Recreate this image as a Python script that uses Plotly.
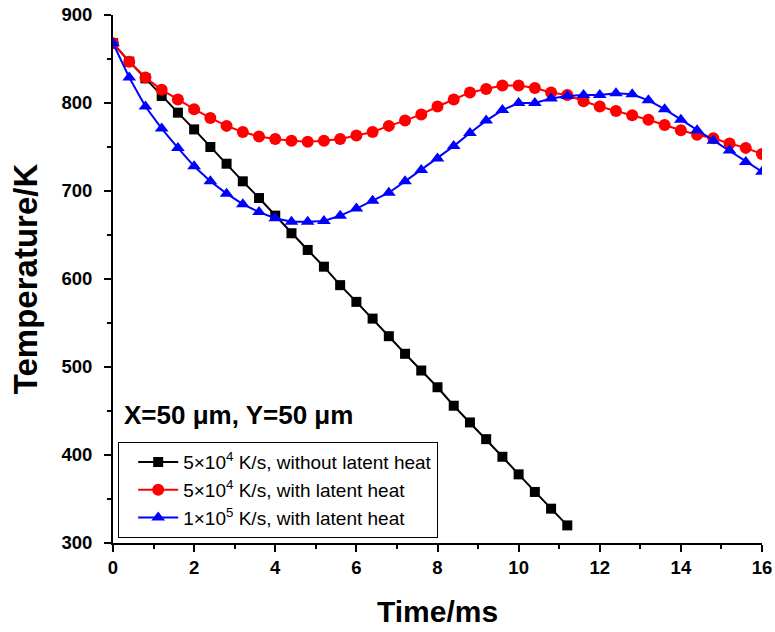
import plotly.graph_objects as go

# Time axis (ms), sampled every 0.4 ms
time_full = [round(0.4 * i, 1) for i in range(41)]
time_no_latent = time_full[:29]

# 5x10^4 K/s cooling, latent heat ignored
temp_no_latent = [868, 847, 828, 808, 789, 770, 750, 731, 711, 692, 672, 652, 633, 614,
                  593, 574, 555, 535, 515, 496, 477, 456, 437, 418, 398, 378, 358, 339, 320]

# 5x10^4 K/s cooling, latent heat included
temp_5e4_latent = [868, 847, 829, 815, 804, 793, 783, 774, 767, 762, 759, 757, 756, 757,
                   759, 763, 767, 774, 780, 787, 796, 804, 812, 816, 820, 820, 817, 812,
                   809, 802, 796, 791, 786, 781, 775, 769, 764, 760, 754, 749, 742]

# 1x10^5 K/s cooling, latent heat included
temp_1e5_latent = [868, 829, 796, 771, 749, 728, 711, 697, 685, 676, 669, 665, 665, 666,
                   672, 680, 689, 698, 711, 724, 737, 751, 766, 780, 792, 800, 800, 805,
                   808, 809, 809, 811, 810, 803, 793, 781, 769, 757, 746, 733, 722]

legend_names = [
    "5×10<sup>4</sup> K/s, without latent heat",
    "5×10<sup>4</sup> K/s, with latent heat",
    "1×10<sup>5</sup> K/s, with latent heat",
]

FONT = "Arial, Liberation Sans, sans-serif"

fig = go.Figure()
fig.add_trace(go.Scatter(
    x=time_no_latent, y=temp_no_latent, name=legend_names[0], mode="lines+markers",
    line=dict(color="black", width=2),
    marker=dict(symbol="square", size=10, color="black"),
))
fig.add_trace(go.Scatter(
    x=time_full, y=temp_5e4_latent, name=legend_names[1], mode="lines+markers",
    line=dict(color="#ff0000", width=2),
    marker=dict(symbol="circle", size=12, color="#ff0000"),
))
fig.add_trace(go.Scatter(
    x=time_full, y=temp_1e5_latent, name=legend_names[2], mode="lines+markers",
    line=dict(color="#0000ff", width=2),
    marker=dict(symbol="triangle-up", size=12, color="#0000ff"),
))

fig.update_layout(
    width=775, height=632,
    margin=dict(l=113, r=13, t=15, b=89),
    paper_bgcolor="white", plot_bgcolor="white",
    font=dict(family=FONT, color="black"),
    showlegend=True,
    legend=dict(
        x=0.008, y=0.191, xanchor="left", yanchor="top",
        bgcolor="white", bordercolor="black", borderwidth=1,
        font=dict(size=19, family=FONT), tracegroupgap=0,
        itemwidth=40, indentation=14,
    ),
    annotations=[dict(
        x=0.014, y=0.243, xref="paper", yref="paper", xanchor="left", yanchor="middle",
        text="<b>X=50 μm, Y=50 μm</b>", showarrow=False,
        font=dict(size=26, family=FONT, color="black"),
    )],
)

fig.update_xaxes(
    range=[0, 16], tickmode="linear", tick0=0, dtick=2, automargin=False,
    showline=True, linecolor="black", linewidth=2, mirror=False,
    ticks="outside", ticklen=7, tickwidth=2, tickcolor="black",
    minor=dict(ticks="outside", ticklen=4, tickwidth=1.5, tickcolor="black", dtick=1),
    showgrid=False, zeroline=False,
    tickfont=dict(size=18.5, family=FONT, weight="bold"),
    title=dict(text="<b>Time/ms</b>", font=dict(size=30, family=FONT), standoff=24),
)
fig.update_yaxes(
    range=[300, 900], tickmode="linear", tick0=300, dtick=100, automargin=False,
    showline=True, linecolor="black", linewidth=2, mirror=False,
    ticks="outside", ticklen=7, tickwidth=2, tickcolor="black",
    minor=dict(ticks="outside", ticklen=4, tickwidth=1.5, tickcolor="black", dtick=50),
    showgrid=False, zeroline=False, ticklabelstandoff=8,
    tickfont=dict(size=18.5, family=FONT, weight="bold"),
    title=dict(text="<b>Temperature/K</b>", font=dict(size=33, family=FONT), standoff=14),
)

fig.write_html("out.html")
